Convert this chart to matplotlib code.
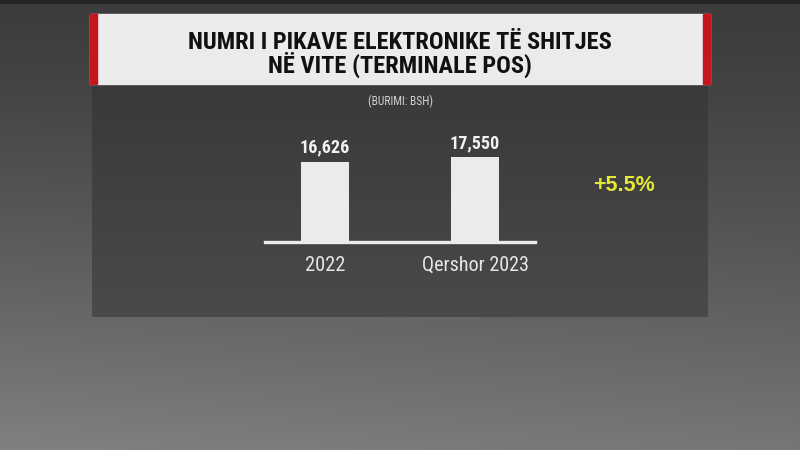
import numpy as np
import matplotlib
matplotlib.use('Agg')
import matplotlib.pyplot as plt
from matplotlib.patches import Rectangle
from matplotlib import font_manager

# data
categories = ['2022', 'Qershor 2023']
values = [16626, 17550]
value_labels = ['16,626', '17,550']
change_text = '+5.5%'
title_lines = ['NUMRI I PIKAVE ELEKTRONIKE TË SHITJES', 'NË VITE (TERMINALE POS)']
source_text = '(BURIMI: BSH)'

W, H = 800, 450


def narrow_font(bold):
    # look for a condensed / narrow face, otherwise fall back to Roboto
    prefs = ['roboto condensed', 'liberation sans narrow', 'dejavu sans condensed',
             'noto sans condensed', 'open sans condensed']
    found = {}
    for f in font_manager.fontManager.ttflist:
        fn = f.fname.lower().replace('-', ' ').replace('_', ' ')
        key = (f.name + ' ' + fn).lower()
        if 'italic' in key or 'oblique' in key or 'light' in key or 'thin' in key:
            continue
        if 'semi' in key or 'medium' in key or 'black' in key or 'extra' in key:
            continue
        is_bold = f.weight in ('bold', 700) or 'bold' in fn
        if is_bold != bold:
            continue
        for p in prefs:
            tag = p.replace(' ', '')
            if p in key or tag in key.replace(' ', ''):
                found.setdefault(p, f.fname)
    for p in prefs:
        if p in found:
            return font_manager.FontProperties(fname=found[p])
    return font_manager.FontProperties(family=['Roboto', 'DejaVu Sans'],
                                       weight='bold' if bold else 'normal')


nb = narrow_font(True)
nr = narrow_font(False)

fig = plt.figure(figsize=(W / 100, H / 100), dpi=100)
renderer = fig.canvas.get_renderer()

# background layer in pixel coordinates (y down)
bg = fig.add_axes([0, 0, 1, 1])
bg.set_xlim(0, W)
bg.set_ylim(H, 0)
bg.axis('off')

yy, xx = np.mgrid[0:H, 0:W]
shade = 0.235 + 0.23 * (yy / H) ** 1.3 + 0.04 * (1 - xx / W) * (yy / H)
bg.imshow(np.dstack([shade] * 3), extent=(0, W, H, 0), aspect='auto', zorder=0)
bg.add_patch(Rectangle((0, 0), W, 3, color='#262626', zorder=1))

# dark panel
py = np.linspace(0, 1, 50)[:, None] * np.ones((1, 2))
panel = 0.225 + 0.065 * py
bg.imshow(np.dstack([panel] * 3), extent=(92, 708, 317, 84), aspect='auto', zorder=2)

# title box with red edges
bg.add_patch(Rectangle((90, 14), 620, 70, color='#ebebeb', zorder=3))
bg.add_patch(Rectangle((90, 14), 7, 70, color='#c4161c', zorder=4))
bg.add_patch(Rectangle((703, 14), 7, 70, color='#c4161c', zorder=4))


def fit_size(t, size, target):
    # balance between the letter height and the text width of the reference
    t.set_fontsize(size)
    w = t.get_window_extent(renderer).width
    if w > target:
        t.set_fontsize(size * np.sqrt(target / w))
    return t.get_fontsize()


# title: one two-line text, baselines at 48.5 and 72.8 px
probe = bg.text(400, 48.5, title_lines[0], ha='center', va='baseline',
                fontproperties=nb)
tsize = fit_size(probe, 18.8, 397)
top_px = H - probe.get_window_extent(renderer).y1
probe.remove()
title = bg.text(400, 72.8, '\n'.join(title_lines), ha='center', va='baseline',
                multialignment='center', color='#111111', fontproperties=nb,
                fontsize=tsize, zorder=5)
lo, hi = 0.5, 2.0
for _ in range(30):
    mid = (lo + hi) / 2
    title.set_linespacing(mid)
    if H - title.get_window_extent(renderer).y1 > top_px:
        lo = mid
    else:
        hi = mid

src = bg.text(400, 105, source_text, ha='center', va='baseline',
              color='#d2d2d2', fontproperties=nr, zorder=5)
fit_size(src, 8.3, 79)
bg.text(624, 190.7, change_text, ha='center', va='baseline', fontsize=15.5,
        fontweight='bold', color='#e3e834', family=['Liberation Sans', 'DejaVu Sans'],
        zorder=5)

# bar chart
ax = fig.add_axes([265 / W, (H - 242) / H, 270 / W, 100 / H])
ax.patch.set_visible(False)
x = np.arange(len(categories))
ax.bar(x, values, width=0.32, color='#ebebeb', zorder=2)
ax.axhline(0, color='#ebebeb', lw=2.4, zorder=3, clip_on=False)
ax.set_xlim(-0.4, 1.4)
ax.set_ylim(0, 20700)
ax.axis('off')

cat_w = [38, 100]
for i, v in enumerate(values):
    a = ax.annotate(value_labels[i], (x[i], v), xytext=(0, 6.5), textcoords='offset points',
                    ha='center', va='baseline', color='#f2f2f2', fontproperties=nb)
    fit_size(a, 13.3, 50)
    c = ax.annotate(categories[i], (x[i], 0), xytext=(0, -21), textcoords='offset points',
                    ha='center', va='baseline', color='#e6e6e6', fontproperties=nr)
    fit_size(c, 15.5, cat_w[i])

fig.savefig('out.png', dpi=100)
